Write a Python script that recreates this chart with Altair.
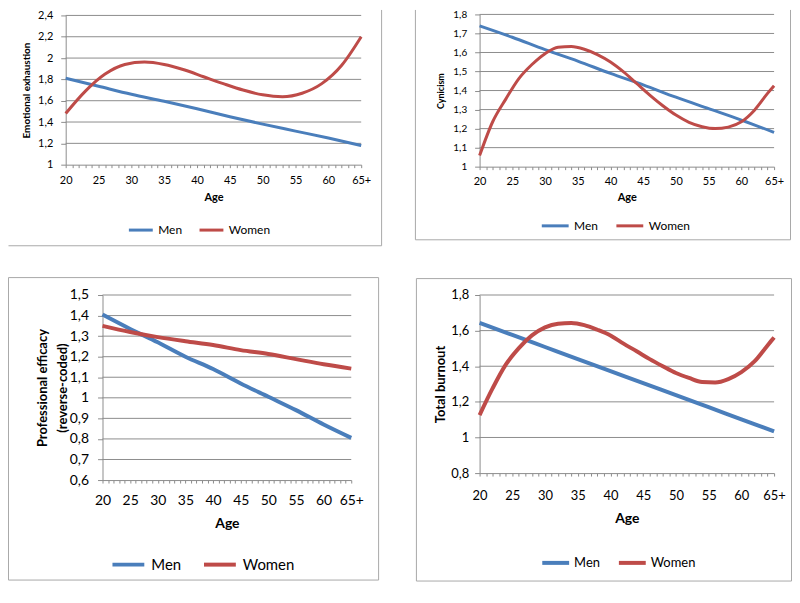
import altair as alt
import pandas as pd

SERIES = ["Men", "Women"]
COLORS = ["#4a7ebb", "#be4b48"]
AGE_TICKS = list(range(20, 66))
FONT = "Lato"
GRID = "#8c8c8c"
FRAME = "#a8a8a8"

# Panel 1: Emotional exhaustion
P1_MEN_AGES = [20, 25, 30, 35, 40, 45, 50, 55, 60, 65]
P1_MEN = [1.81, 1.735, 1.66, 1.595, 1.525, 1.45, 1.38, 1.315, 1.25, 1.18]
P1_WOMEN_AGES = [20, 23, 26, 29, 32, 35, 38, 41, 44, 47, 50, 53, 56, 59, 62, 65]
P1_WOMEN = [1.48, 1.69, 1.85, 1.94, 1.963, 1.94, 1.89, 1.825, 1.76, 1.70, 1.655, 1.637, 1.67, 1.76, 1.93, 2.2]
P1_YTICKS = [1, 1.2, 1.4, 1.6, 1.8, 2, 2.2, 2.4]

# Panel 2: Cynicism
P2_MEN_AGES = [20, 25, 30, 35, 40, 45, 50, 55, 60, 65]
P2_MEN = [1.74, 1.68, 1.615, 1.555, 1.49, 1.43, 1.365, 1.305, 1.245, 1.18]
P2_WOMEN_AGES = [20, 22, 24, 26, 28, 30, 32, 34, 36, 38, 40, 42, 44, 46, 48, 50, 52, 54, 56, 58, 60, 62, 64, 65]
P2_WOMEN = [1.058, 1.236, 1.355, 1.463, 1.537, 1.594, 1.628, 1.631, 1.617, 1.589, 1.55, 1.498,
            1.437, 1.376, 1.32, 1.271, 1.233, 1.21, 1.20, 1.208, 1.236, 1.297, 1.385, 1.425]
P2_YTICKS = [1, 1.1, 1.2, 1.3, 1.4, 1.5, 1.6, 1.7, 1.8]

# Panel 3: Professional efficacy (reverse-coded)
P3_MEN_AGES = [20, 25, 30, 35, 40, 45, 50, 55, 60, 65]
P3_MEN = [1.405, 1.335, 1.27, 1.2, 1.14, 1.07, 1.005, 0.94, 0.87, 0.805]
P3_WOMEN_AGES = [20, 25, 30, 35, 40, 45, 50, 55, 60, 65]
P3_WOMEN = [1.35, 1.32, 1.295, 1.275, 1.257, 1.232, 1.213, 1.188, 1.163, 1.142]
P3_YTICKS = [0.6, 0.7, 0.8, 0.9, 1, 1.1, 1.2, 1.3, 1.4, 1.5]

# Panel 4: Total burnout
P4_MEN_AGES = [20, 25, 30, 35, 40, 45, 50, 55, 60, 65]
P4_MEN = [1.643, 1.576, 1.508, 1.44, 1.373, 1.305, 1.238, 1.17, 1.102, 1.034]
P4_WOMEN_AGES = [20, 22, 24, 26, 28, 30, 32, 34, 36, 38, 40, 42, 44, 46, 48, 50, 52, 54, 56, 58, 60, 62, 64, 65]
P4_WOMEN = [1.126, 1.277, 1.409, 1.502, 1.573, 1.618, 1.639, 1.643, 1.631, 1.605, 1.573, 1.527,
            1.484, 1.44, 1.40, 1.362, 1.334, 1.311, 1.309, 1.328, 1.367, 1.427, 1.517, 1.562]
P4_YTICKS = [0.8, 1, 1.2, 1.4, 1.6, 1.8]

VIEW_W, VIEW_H = 296, 144   # every view is the same size; flush layout
DUMMY = pd.DataFrame({"d": [0]})


def hrule(x1, x2, y, color):
    return alt.Chart(DUMMY).mark_rule(color=color, strokeWidth=1).encode(
        x=alt.value(x1), x2=alt.value(x2), y=alt.value(y))


def vrule(y1, y2, x, color):
    return alt.Chart(DUMMY).mark_rule(color=color, strokeWidth=1).encode(
        y=alt.value(y1), y2=alt.value(y2), x=alt.value(x))


def panel(m_ages, m_vals, w_ages, w_vals, s):
    df = pd.DataFrame({
        "age": list(m_ages) + list(w_ages),
        "value": list(m_vals) + list(w_vals),
        "sex": ["Men"] * len(m_ages) + ["Women"] * len(w_ages),
    })
    x0, x1 = s["xr"]
    y0, y1 = s["yr"]
    xscale = alt.Scale(domain=[20, 65], range=[x0, x1], nice=False, zero=False)
    yscale = alt.Scale(domain=[s["yticks"][0], s["yticks"][-1]], range=[y0, y1],
                       nice=False, zero=False)
    x = alt.X("age:Q", scale=xscale,
              axis=alt.Axis(values=AGE_TICKS, title="Age", offset=y0 - VIEW_H,
                            labelExpr="datum.value % 5 == 0 ? (datum.value == 65 ? '65+' : '' + datum.value) : ''",
                            labelOverlap=False, labelFlush=False, labelBaseline="middle",
                            labelFont=FONT, labelFontSize=s["xfs"], labelColor="#000",
                            labelPadding=s["xpad"], tickSize=3, tickColor=GRID,
                            domainColor=GRID, grid=False,
                            titleFont=FONT, titleFontSize=s["tfs"], titleFontWeight="bold",
                            titleColor="#000", titleX=(x0 + x1) / 2, titleY=s["ageY"],
                            titleBaseline="middle"))
    yaxis = alt.Axis(values=s["yticks"], title=s["ytitle"], offset=-x0,
                     labelExpr="replace(format(datum.value, '.1~f'), '.', ',')",
                     labelFont=FONT, labelFontSize=s["yfs"], labelColor="#000",
                     labelPadding=s["ypad"], tickSize=5, tickColor=GRID,
                     domainColor=GRID, grid=False,
                     titleFont=FONT, titleFontSize=s["ytfs"], titleFontWeight="bold",
                     titleColor="#000", titleX=s["ytX"], titleY=(y0 + y1) / 2,
                     titleBaseline="middle", titleLineHeight=s.get("tlh", 14))
    y = alt.Y("value:Q", scale=yscale, axis=yaxis)
    color = alt.Color("sex:N", scale=alt.Scale(domain=SERIES, range=COLORS),
                      legend=alt.Legend(orient="none", legendX=s["lgX"], legendY=s["lgY"],
                                        direction="horizontal", title=None,
                                        symbolType="stroke", symbolSize=s["sym"] ** 2,
                                        symbolStrokeWidth=s["lw"],
                                        labelFont=FONT, labelFontSize=s["lfs"], labelColor="#000",
                                        labelOffset=s["loff"], columnPadding=s["cpad"], padding=0))

    L, T, R, B = s["frame"]
    layers = []
    for g in s.get("guides", []):
        if g[0] == "h":
            layers.append(hrule(g[1], g[2], g[3], "white"))
        else:
            layers.append(vrule(g[1], g[2], g[3], "white"))

    grid_df = pd.DataFrame({"value": s["yticks"][1:]})
    layers.append(alt.Chart(grid_df).mark_rule(color=GRID, strokeWidth=1).encode(
        y=y, x=alt.value(x0), x2=alt.value(x1)))
    layers.append(alt.Chart(df).mark_line(interpolate="monotone", strokeWidth=s["lw"]).encode(
        x=x, y=y, color=color))

    vis = s["vis"]
    if vis[0]:
        layers.append(hrule(L, R, T, FRAME))
    if vis[1]:
        layers.append(vrule(T, B, R, FRAME))
    if vis[2]:
        layers.append(hrule(L, R, B, FRAME))
    if vis[3]:
        layers.append(vrule(T, B, L, FRAME))
    return alt.layer(*layers).properties(width=VIEW_W, height=VIEW_H)


# view origins on the page: panel1 (110,20), panel2 (482,20), panel3 (110,277), panel4 (482,277)
S1 = dict(xr=(-44, 253), yr=(144, -6), yticks=P1_YTICKS, ytitle="Emotional exhaustion",
          xfs=11, xpad=13, ageY=33, tfs=11, yfs=11, ypad=8, ytfs=10, ytX=-39,
          lgX=18, lgY=196, sym=24, lw=3, lfs=12, loff=4, cpad=11,
          frame=(-101.5, -11.5, 273.5, 225.5), vis=(False, True, True, False),
          guides=[("h", -101.5, 273.5, -11.5), ("v", -11.5, 225.5, -101.5)])
S2 = dict(xr=(0, 296), yr=(146, -7), yticks=P2_YTICKS, ytitle="Cynicism",
          xfs=11, xpad=12, ageY=31, tfs=11, yfs=10, ypad=8, ytfs=9, ytX=-39,
          lgX=61, lgY=190.5, sym=27, lw=3, lfs=12, loff=4, cpad=12,
          frame=(-64.5, -11.5, 312.5, 219.5), vis=(False, True, True, True),
          guides=[("h", -64.5, 312.5, -11.5)])
S3 = dict(xr=(-7, 243), yr=(204, 18), yticks=P3_YTICKS, ytitle=["Professional efficacy", "(reverse-coded)"],
          xfs=14, xpad=18, ageY=44, tfs=14, yfs=14, ypad=9, ytfs=13, ytX=-60, tlh=20,
          lgX=1, lgY=271, sym=32, lw=4, lfs=15, loff=5, cpad=15,
          frame=(-101.5, 0.5, 270.5, 304.5), vis=(True, True, True, True))
S4 = dict(xr=(0, 296), yr=(197, 18), yticks=P4_YTICKS, ytitle="Total burnout",
          xfs=13, xpad=20, ageY=46, tfs=14, yfs=13, ypad=6, ytfs=13, ytX=-39,
          lgX=61, lgY=271.5, sym=27, lw=4, lfs=13, loff=3, cpad=11,
          frame=(-63.5, 1.5, 313.5, 305.5), vis=(True, True, True, True))

p1 = panel(P1_MEN_AGES, P1_MEN, P1_WOMEN_AGES, P1_WOMEN, S1)
p2 = panel(P2_MEN_AGES, P2_MEN, P2_WOMEN_AGES, P2_WOMEN, S2)
p3 = panel(P3_MEN_AGES, P3_MEN, P3_WOMEN_AGES, P3_WOMEN, S3)
p4 = panel(P4_MEN_AGES, P4_MEN, P4_WOMEN_AGES, P4_WOMEN, S4)

chart = alt.concat(p1, p2, p3, p4, columns=2, bounds="flush",
                   spacing={"row": 113, "column": 76}).resolve_scale(
    color="independent").resolve_legend(color="independent").properties(
    padding=0).configure_view(stroke=None)

chart.save("out.html", embed_options={"renderer": "svg", "actions": False})
